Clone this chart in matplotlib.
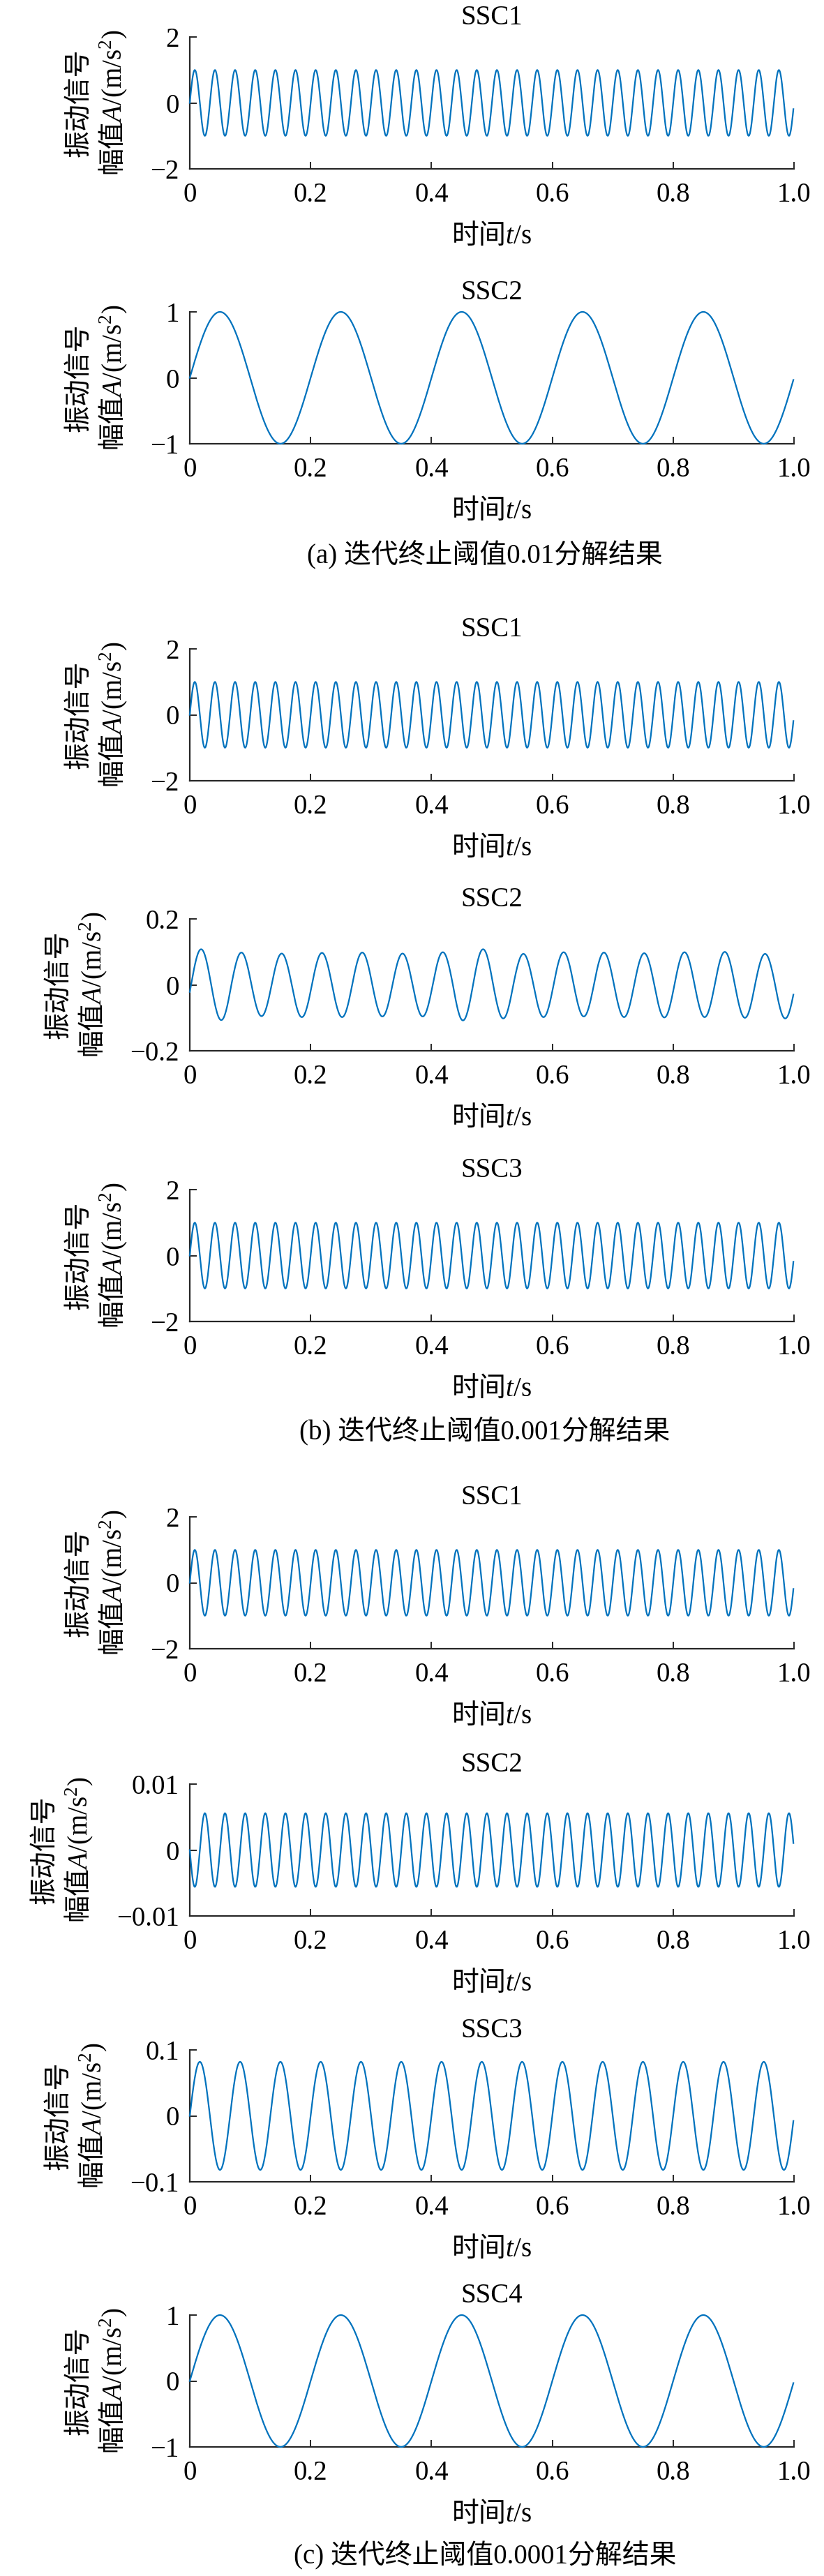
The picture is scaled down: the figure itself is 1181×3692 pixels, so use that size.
import numpy as np
import matplotlib

matplotlib.use("Agg")
import matplotlib.pyplot as plt  # noqa: E402

# ---- data ----
GROUP_CAPTIONS = [
    "(a) 迭代终止阈值0.01分解结果",
    "(b) 迭代终止阈值0.001分解结果",
    "(c) 迭代终止阈值0.0001分解结果",
]
PANEL_TITLES = ["SSC1", "SSC2", "SSC1", "SSC2", "SSC3", "SSC1", "SSC2", "SSC3", "SSC4"]
FREQ_HZ = [30, 5, 30, 15, 30, 30, 30, 15, 5]
AMPLITUDE = [1.0, 1.0, 1.0, 0.1, 1.0, 1.0, 0.0056, 0.082, 1.0]
PHASE_RAD = [0.0, 0.0, 0.0, -0.2, 0.0, 0.0, np.pi, 0.0, 0.0]
Y_LIMIT = [2, 1, 2, 0.2, 2, 2, 0.01, 0.1, 1]
Y_TICK_TEXT = ["2", "1", "2", "0.2", "2", "2", "0.01", "0.1", "1"]
# (b) SSC2 is not a clean tone: peak / trough value of each half cycle
B_SSC2_EXTREMES = [0.108, -0.107, 0.098, -0.095, 0.095, -0.098, 0.097, -0.098,
                   0.098, -0.096, 0.095, -0.096, 0.099, -0.108, 0.108, -0.102,
                   0.094, -0.098, 0.099, -0.096, 0.098, -0.098, 0.096, -0.099,
                   0.099, -0.098, 0.100, -0.100, 0.094, -0.102]
FS = 1000  # samples per second, t = 0 ... 0.999 s
X_TICKS = [0, 0.2, 0.4, 0.6, 0.8, 1.0]
X_TICK_TEXT = ["0", "0.2", "0.4", "0.6", "0.8", "1.0"]

BLUE = "#0072BD"
DARK = "#262626"
W, H = 1181, 3692
AX_LEFT, AX_RIGHT, AX_H = 272, 1138, 189
AX_TOPS = [53, 447, 930, 1317, 1705, 2174, 2557, 2938, 3318]
CAPTION_Y = [796, 2052, 3663]
FS_TXT = 28
CJK = "Noto Sans CJK SC"

plt.rcParams["font.family"] = ["Liberation Serif", CJK]
plt.rcParams["mathtext.fontset"] = "custom"
plt.rcParams["mathtext.rm"] = "Liberation Serif"
plt.rcParams["mathtext.it"] = "Liberation Serif:italic"
plt.rcParams["axes.unicode_minus"] = True


def waveform(i, t):
    arg = 2 * np.pi * FREQ_HZ[i] * t + PHASE_RAD[i]
    if i == 3:
        k = np.clip(np.floor(arg / np.pi).astype(int), 0, len(B_SSC2_EXTREMES) - 1)
        return np.abs(np.array(B_SSC2_EXTREMES))[k] * np.sin(arg)
    return AMPLITUDE[i] * np.sin(arg)


fig = plt.figure(figsize=(W / 100, H / 100), dpi=100)
t = np.arange(FS) / FS

for i, top in enumerate(AX_TOPS):
    ax = fig.add_axes([AX_LEFT / W, 1 - (top + AX_H) / H,
                       (AX_RIGHT - AX_LEFT) / W, AX_H / H])
    ax.plot(t, waveform(i, t), color=BLUE, lw=1.6, clip_on=False, zorder=3)
    lim = Y_LIMIT[i]
    ax.set_xlim(0, 1.0)
    ax.set_ylim(-lim, lim)
    ax.set_xticks(X_TICKS)
    ax.set_xticklabels(X_TICK_TEXT)
    ax.set_yticks([-lim, 0, lim])
    ax.set_yticklabels(["\u2212" + Y_TICK_TEXT[i], "0", Y_TICK_TEXT[i]])
    for side in ("top", "right"):
        ax.spines[side].set_visible(False)
    for side in ("left", "bottom"):
        ax.spines[side].set_linewidth(1.6)
        ax.spines[side].set_color(DARK)
    ax.tick_params(direction="in", length=7, width=1.4, color=DARK,
                   labelsize=FS_TXT, labelcolor="black")
    ax.tick_params(axis="x", pad=14)
    ax.tick_params(axis="y", pad=11)
    ax.set_title(PANEL_TITLES[i], fontsize=FS_TXT, pad=13)
    # non-math parts take the text's own family (CJK), math parts Liberation Serif
    ax.set_xlabel("时间$t\\mathrm{/s}$", fontsize=FS_TXT, labelpad=14, family=CJK)
    ax.set_ylabel("振动信号\n幅值$A\\mathrm{/(m/s^2)}$", fontsize=FS_TXT,
                  labelpad=22, linespacing=1.2, family=CJK)

for cap, yc in zip(GROUP_CAPTIONS, CAPTION_Y):
    fig.text(695 / W, 1 - yc / H, cap, fontsize=FS_TXT, ha="center", va="center")

fig.savefig("out.png", dpi=100)
